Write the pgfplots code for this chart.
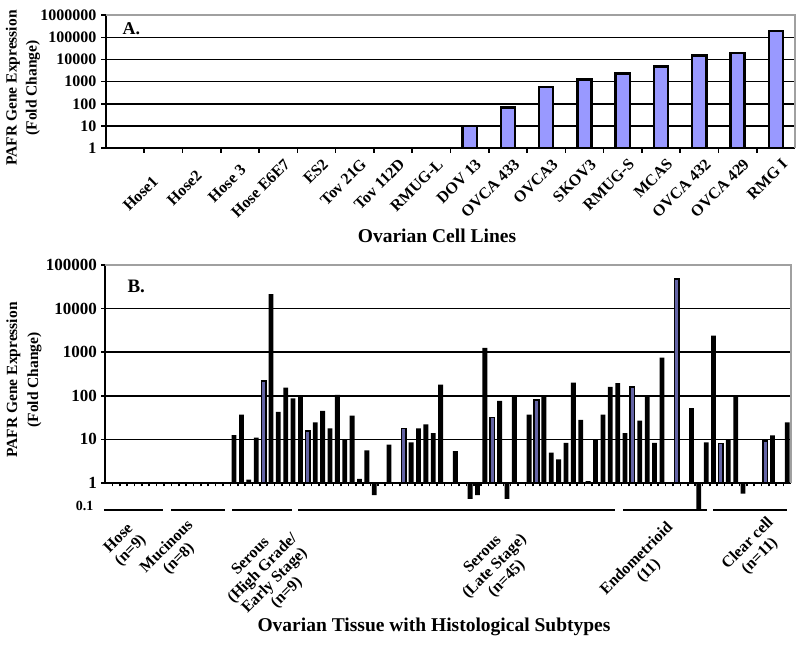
\documentclass[border=0pt]{standalone}
\usepackage{fontspec}
\setmainfont{Liberation Serif}
\usepackage{pgfplots}
\pgfplotsset{compat=1.18}
\usepackage{pgfplotstable}
\definecolor{barA}{RGB}{153,153,255}
\definecolor{barB}{RGB}{100,100,165}
\definecolor{bordergray}{RGB}{160,160,160}

\pgfplotstableread{
x y
9 10
10 67
11 565
12 1240
13 2300
14 4880
15 15000
16 20000
17 190000
}\cellA

\pgfplotstableread{
x y
0 1
1 1
2 1
3 1
4 1
5 1
6 1
7 1
8 1
9 1
10 1
11 1
12 1
13 1
14 1
15 1
16 1
17 12.6
18 37
19 1.2
20 11
22 21500
23 43
24 154
25 87
26 100
28 24.5
29 45
30 18
31 105
32 10
33 35
34 1.25
35 5.6
36 0.53
37 1
38 7.6
39 1
41 8.5
42 18
43 22
44 14
45 180
46 1
47 5.4
48 1
49 0.43
50 0.53
51 1250
53 77
54 0.43
55 100
56 1
57 37
59 100
60 5
61 3.5
62 8.3
63 200
64 28
65 1.1
66 10
67 37
68 160
69 195
70 14
72 27
73 100
74 8.3
75 750
76 1
78 1
79 52
80 0.24
81 8.5
82 2400
84 10
85 100
86 0.57
87 1
88 1
90 12.3
91 1
92 24.5
}\blackB

\pgfplotstableread{
x y
21 220
27 15.5
40 18
52 32
58 80
71 160
77 48000
83 8.1
89 9.2
}\blueB

\newcommand{\fs}[1]{\bfseries\fontsize{#1bp}{#1bp}\selectfont}

\begin{document}
\begin{tikzpicture}
\path[use as bounding box] (0bp,0bp) rectangle (800bp,645bp);

% ---------------- Panel A ----------------
\begin{axis}[
  at={(106bp,497bp)}, anchor=south west, scale only axis,
  width=689bp, height=132.7bp,
  ymode=log, ymin=1, ymax=1e6, log origin y=0,
  xmin=-0.5, xmax=17.5,
  axis x line*=bottom, axis y line*=left,
  axis line style={line width=2bp, black},
  tick align=outside, yminorticks=false,
  clip=false,
  xtick={0.5,1.5,...,16.5}, xticklabels={},
  ytick={1,10,100,1000,10000,100000,1000000},
  yticklabels={1,10,100,1000,10000,100000,1000000},
  major tick length=5bp,
  major tick style={line width=1.6bp, black},
  ymajorgrids, major grid style={line width=1.6bp, black},
  tick label style={font=\fs{16}},
  yticklabel style={xshift=-1bp},
]
\addplot[ybar, bar width=14.2bp, bar shift=0pt, fill=barA, draw=black, line width=2.4bp] table[x=x,y=y]{\cellA};
\draw[bordergray, line width=2bp] (rel axis cs:0,1) -- (rel axis cs:1,1) -- (rel axis cs:1,0);
\end{axis}
% category names (same geometry, no tick marks)
\begin{axis}[
  at={(106bp,497bp)}, anchor=south west, scale only axis,
  width=689bp, height=132.7bp,
  ymode=log, ymin=1, ymax=1e6,
  xmin=-0.5, xmax=17.5,
  axis x line*=bottom, axis y line*=left,
  axis line style={draw=none},
  yminorticks=false,
  xtick={0,...,17},
  xticklabels={,{Hose1\hspace*{24bp}},{Hose2\hspace*{16bp}},{Hose 3\hspace*{8bp}},Hose E6E7,ES2,Tov 21G,Tov 112D,RMUG-L,DOV 13,OVCA 433,OVCA3,SKOV3,RMUG-S,MCAS,OVCA 432,OVCA 429,RMG I},
  ytick=\empty,
  major tick length=0pt,
  xticklabel style={font=\fs{16}, xshift=5bp, yshift=-5bp, rotate=45, anchor=north east},
]
\addplot[draw=none, mark=none] table[x=x,y=y]{\cellA};
\end{axis}
\node[anchor=base west, font=\fs{18}] at (119bp,610bp) {A.};
\node[rotate=90, align=center, font=\bfseries\fontsize{15.5bp}{20bp}\selectfont] at (23bp,557bp) {PAFR Gene Expression\\(Fold Change)};
\node[font=\fs{19.5}] at (437bp,409bp) {Ovarian Cell Lines};

% ---------------- Panel B ----------------
\begin{axis}[
  at={(105bp,162bp)}, anchor=south west, scale only axis,
  width=686bp, height=218bp,
  ymode=log, ymin=1, ymax=1e5, log origin y=0,
  xmin=-0.5, xmax=92.5,
  axis x line*=bottom, axis y line*=left,
  axis line style={line width=2bp, black},
  xtick={0.5,1.5,...,91.5},
  xticklabels={},
  ytick={1,10,100,1000,10000,100000},
  yticklabels={1,10,100,1000,10000,100000},
  yminorticks=false,
  major tick length=3.5bp, tick align=outside,
  major tick style={line width=1.6bp, black},
  ymajorgrids, major grid style={line width=1.5bp, black},
  tick label style={font=\fs{17}},
  yticklabel style={xshift=-1bp},
  clip=false,
]
\addplot[ybar, bar width=4.8bp, bar shift=0pt, fill=black, draw=none] table[x=x,y=y]{\blackB};
\addplot[ybar, bar width=4.6bp, bar shift=0pt, fill=barB, draw=black, line width=1.5bp] table[x=x,y=y]{\blueB};
\draw[bordergray, line width=2bp] (rel axis cs:0,1) -- (rel axis cs:1,1) -- (rel axis cs:1,0);
% group underlines
\draw[line width=2.7bp] (axis cs:-0.64,0.24) -- (axis cs:7.36,0.24);
\draw[line width=1.7bp] (axis cs:8.45,0.24) -- (axis cs:15.77,0.24);
\draw[line width=1.7bp] (axis cs:16.72,0.24) -- (axis cs:24.85,0.24);
\draw[line width=1.7bp] (axis cs:25.67,0.24) -- (axis cs:68.64,0.24);
\draw[line width=1.7bp] (axis cs:69.73,0.24) -- (axis cs:81.1,0.24);
\draw[line width=1.7bp] (axis cs:81.93,0.24) -- (axis cs:91.96,0.24);
\end{axis}
\node[anchor=base west, font=\fs{19}] at (124bp,352bp) {B.};
\node[anchor=east, font=\fs{14}] at (97bp,139bp) {0.1};
\node[rotate=90, align=center, font=\bfseries\fontsize{15.5bp}{21bp}\selectfont] at (24bp,265bp) {PAFR Gene Expression\\(Fold Change)};

\begin{scope}[every node/.style={rotate=45, align=center, font=\bfseries\fontsize{16bp}{17bp}\selectfont}]
\node at (125bp,100bp) {Hose\\(n=9)};
\node at (173bp,92bp) {Mucinous\\(n=8)};
\node at (269bp,70bp) {Serous\\(High Grade/\\Early Stage)\\(n=9)};
\node at (495bp,78bp) {Serous\\(Late Stage)\\(n=45)};
\node at (643bp,80bp) {Endometrioid\\(11)};
\node at (754bp,95bp) {Clear cell\\(n=11)};
\end{scope}
\node[font=\fs{19.5}] at (434bp,18bp) {Ovarian Tissue with Histological Subtypes};
\end{tikzpicture}
\end{document}
